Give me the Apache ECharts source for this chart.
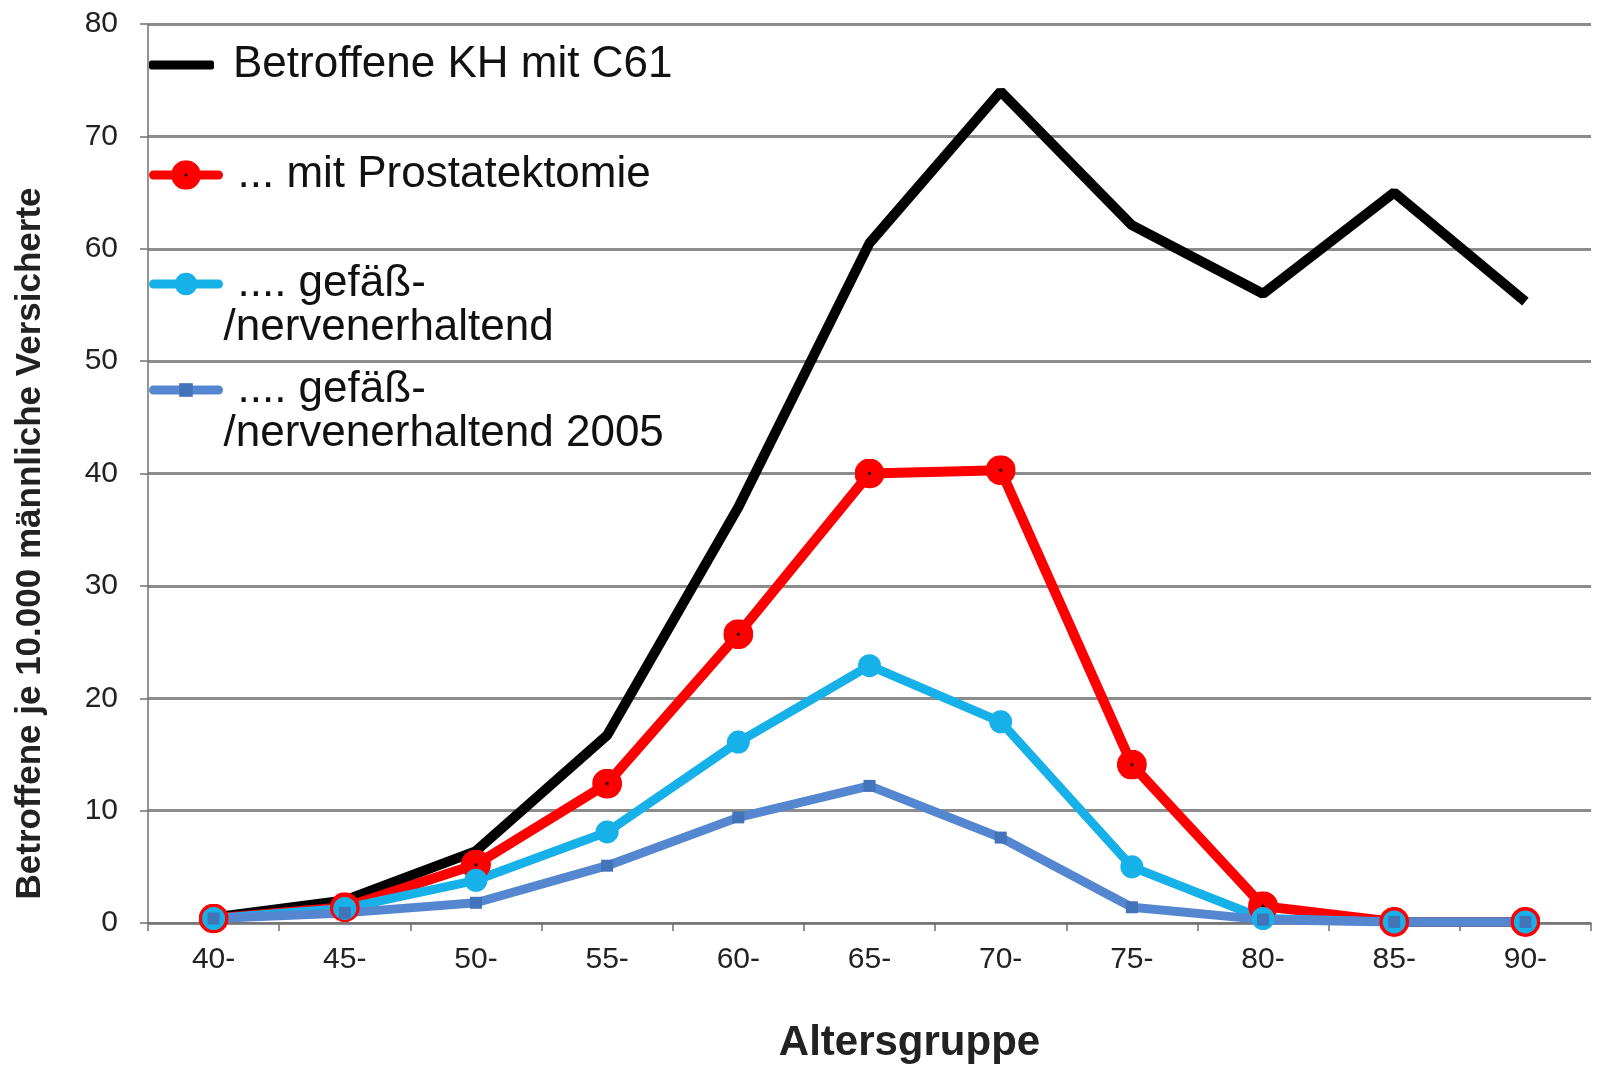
<!DOCTYPE html>
<html>
<head>
<meta charset="utf-8">
<title>Betroffene je 10.000 männliche Versicherte</title>
<script src="https://cdn.jsdelivr.net/npm/echarts@6/dist/echarts.min.js"></script>
<style>
  html, body { margin: 0; padding: 0; background: #fff; }
  #chart { width: 1603px; height: 1066px; }
</style>
</head>
<body>
<div id="chart"></div>
<script>
// Altersgruppen (x-Achse)
const ageGroups = ['40-', '45-', '50-', '55-', '60-', '65-', '70-', '75-', '80-', '85-', '90-']

// Werte je 10.000 männliche Versicherte
const kvC61 = [0.5, 2.0, 6.4, 16.7, 37.0, 60.5, 74.0, 62.1, 56.0, 65.0, 55.3]
const prostatektomie = [0.4, 1.4, 5.2, 12.4, 25.7, 40.0, 40.3, 14.1, 1.5, 0.1, 0.1]
const nervenerhaltend = [0.4, 1.3, 3.8, 8.1, 16.1, 22.9, 17.9, 5.0, 0.4, 0.1, 0.1]
const nervenerhaltend2005 = [0.4, 0.9, 1.8, 5.1, 9.4, 12.2, 7.6, 1.4, 0.3, 0.1, 0.1]

const seriesNames = [
  'Betroffene KH mit C61',
  '... mit Prostatektomie',
  '.... gefäß-/nervenerhaltend',
  '.... gefäß-/nervenerhaltend 2005'
]

const FONT = '"Liberation Sans", Arial, sans-serif'
const LEGEND_SIZE = 44

// roter Punkt mit dunklem Kern
const redDotSvg = '<svg xmlns="http://www.w3.org/2000/svg" width="30" height="30" viewBox="0 0 30 30">' +
  '<circle cx="15" cy="15" r="15" fill="#ff0000"/><circle cx="15" cy="15" r="1.6" fill="#220000"/></svg>'
const redDot = 'image://data:image/svg+xml;utf8,' + encodeURIComponent(redDotSvg)

const chart = echarts.init(document.getElementById('chart'))

const legendText = {
  color: '#111',
  fontFamily: FONT,
  fontSize: LEGEND_SIZE,
  lineHeight: 44
}
const richLine = (pad) => ({
  fontFamily: FONT, fontSize: LEGEND_SIZE, lineHeight: 44, color: '#111', padding: [0, 0, 0, pad]
})

const makeLegend = (name, top, extra) => Object.assign({
  data: [name],
  left: 149,
  top: top,
  padding: 0,
  itemWidth: 65,
  selectedMode: false,
  textStyle: legendText
}, extra)

const option = {
  backgroundColor: '#fff',
  animation: false,
  grid: {
    left: 148,
    right: 12,
    top: 24,
    bottom: 143,
    outerBoundsMode: 'none'
  },
  legend: [
    makeLegend(seriesNames[0], 43, {
      data: [{ name: seriesNames[0], icon: 'roundRect' }],
      itemHeight: 9,
      formatter: () => '{a|Betroffene KH mit C61}',
      textStyle: Object.assign({}, legendText, { rich: { a: richLine(14) } })
    }),
    makeLegend(seriesNames[1], 153, {
      itemHeight: 37,
      lineStyle: { width: 9, cap: 'round' },
      formatter: () => '{a|... mit Prostatektomie}',
      textStyle: Object.assign({}, legendText, { rich: { a: richLine(14) } })
    }),
    makeLegend(seriesNames[2], 218, {
      itemHeight: 28,
      lineStyle: { width: 9, cap: 'round' },
      formatter: () => '{s| }\n{a|.... gefäß-}\n{b|/nervenerhaltend}',
      textStyle: Object.assign({}, legendText, {
        rich: { s: richLine(0), a: richLine(14), b: richLine(0) }
      })
    }),
    makeLegend(seriesNames[3], 324, {
      itemHeight: 17,
      lineStyle: { width: 9, cap: 'round' },
      formatter: () => '{s| }\n{a|.... gefäß-}\n{b|/nervenerhaltend 2005}',
      textStyle: Object.assign({}, legendText, {
        rich: { s: richLine(0), a: richLine(14), b: richLine(0) }
      })
    })
  ],
  xAxis: {
    type: 'category',
    data: ageGroups,
    boundaryGap: true,
    name: 'Altersgruppe',
    nameLocation: 'middle',
    nameGap: 99,
    nameTextStyle: {
      fontFamily: FONT,
      fontSize: 42,
      fontWeight: 'bold',
      color: '#222',
      padding: [0, 0, 0, 80]
    },
    axisLine: { lineStyle: { color: '#707070', width: 1.5 } },
    axisTick: { show: true, interval: 0, length: 8, lineStyle: { color: '#707070', width: 1.5 } },
    axisLabel: {
      interval: 0,
      margin: 22,
      color: '#222',
      fontFamily: FONT,
      fontSize: 30
    }
  },
  yAxis: {
    type: 'value',
    min: 0,
    max: 80,
    interval: 10,
    name: 'Betroffene je 10.000 männliche Versicherte',
    nameLocation: 'middle',
    nameGap: 100,
    nameRotate: 90,
    nameTextStyle: {
      fontFamily: FONT,
      fontSize: 35,
      fontWeight: 'bold',
      color: '#222',
      padding: [0, 140, 0, 0]
    },
    axisLine: { show: true, lineStyle: { color: '#707070', width: 1.5 } },
    axisTick: { show: true, length: 8, lineStyle: { color: '#707070', width: 1.5 } },
    axisLabel: {
      margin: 30,
      color: '#222',
      fontFamily: FONT,
      fontSize: 30
    },
    splitLine: { lineStyle: { color: '#8c8c8c', width: 3 } }
  },
  series: [
    {
      name: seriesNames[0],
      type: 'line',
      data: kvC61,
      symbol: 'none',
      lineStyle: { color: '#000', width: 10 },
      itemStyle: { color: '#000' }
    },
    {
      name: seriesNames[1],
      type: 'line',
      data: prostatektomie,
      symbol: redDot,
      symbolSize: 30,
      lineStyle: { color: '#ff0000', width: 10 },
      itemStyle: { color: '#ff0000' }
    },
    {
      name: seriesNames[2],
      type: 'line',
      data: nervenerhaltend,
      symbol: 'circle',
      symbolSize: 23,
      lineStyle: { color: '#17b1ea', width: 9 },
      itemStyle: { color: '#17b1ea' }
    },
    {
      name: seriesNames[3],
      type: 'line',
      data: nervenerhaltend2005,
      symbol: 'rect',
      symbolSize: 12,
      lineStyle: { color: '#5487d0', width: 9 },
      itemStyle: { color: '#4373b9' }
    }
  ]
}

chart.setOption(option)
</script>
</body>
</html>
